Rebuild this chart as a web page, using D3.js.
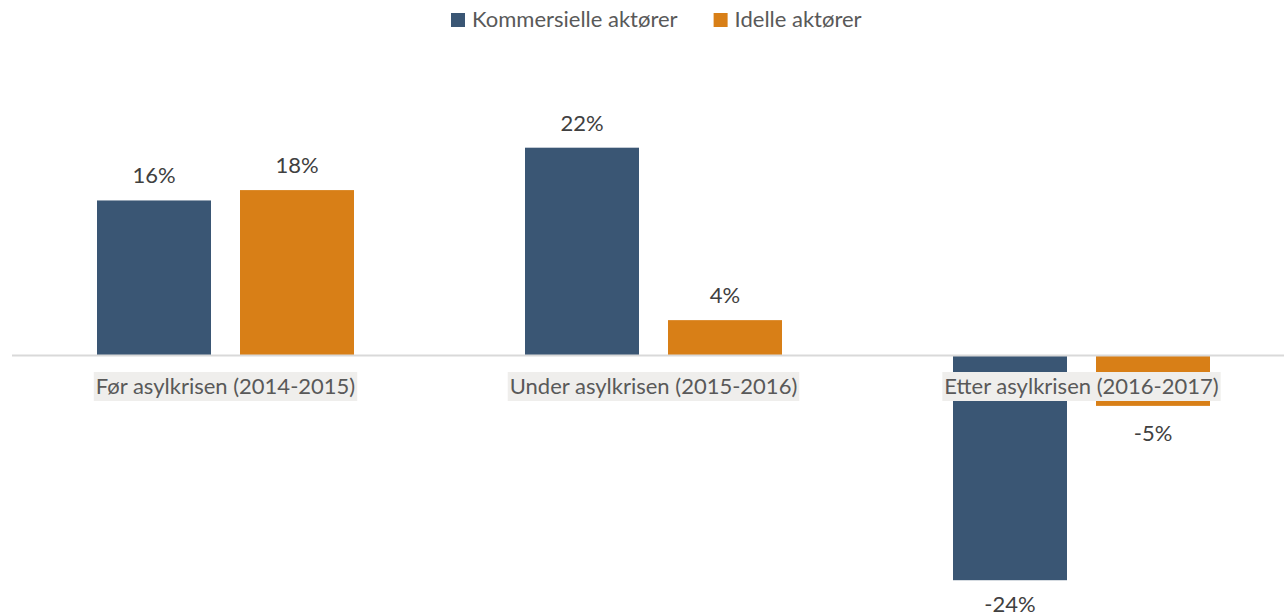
<!DOCTYPE html>
<html>
<head>
<meta charset="utf-8">
<script src="https://cdn.jsdelivr.net/npm/d3@7"></script>
<style>
  html, body { margin: 0; padding: 0; background: #ffffff; }
  svg { display: block; }
  text { font-family: Lato, "Open Sans", sans-serif; }
</style>
</head>
<body>
<svg id="chart" width="1284" height="616"></svg>
<script>
// Periods around the asylum crisis
const categories = ["Før asylkrisen (2014-2015)", "Under asylkrisen (2015-2016)", "Etter asylkrisen (2016-2017)"];
// Actor types (series)
const seriesNames = ["Kommersielle aktører", "Idelle aktører"];
// Change per period, as fractions
const kommersielle = [0.164, 0.220, -0.239];
const idelle = [0.175, 0.037, -0.054];
const seriesValues = [kommersielle, idelle];
const seriesColors = ["#3a5674", "#d87f17"];

const svg = d3.select("#chart");

const x0 = d3.scaleBand().domain(categories).range([11.5, 1295.5]).padding(0);
const x1 = d3.scaleBand().domain(seriesNames).range([85.5, 342.5])
  .paddingInner(29 / 143).paddingOuter(0);
const y = d3.scaleLinear().domain([-0.26, 0.26]).range([600, 110]);
const fmt = d3.formatLocale({ decimal: ",", thousands: " ", grouping: [3], currency: ["", " kr"], minus: "-" }).format(".0%");

const rows = categories.map((c, i) => ({
  category: c,
  items: seriesNames.map((s, j) => ({ series: s, value: seriesValues[j][i], color: seriesColors[j] }))
}));

// Bars
const groups = svg.append("g").selectAll("g").data(rows).join("g")
  .attr("transform", d => `translate(${x0(d.category)},0)`);

groups.selectAll("rect").data(d => d.items).join("rect")
  .attr("x", d => x1(d.series))
  .attr("width", x1.bandwidth())
  .attr("y", d => y(Math.max(0, d.value)))
  .attr("height", d => Math.abs(y(d.value) - y(0)))
  .attr("fill", d => d.color);

// Value labels
groups.selectAll("text.val").data(d => d.items).join("text")
  .attr("class", "val")
  .attr("x", d => x1(d.series) + x1.bandwidth() / 2)
  .attr("y", d => d.value >= 0 ? y(d.value) - 17 : Math.min(y(d.value) + 35, 612))
  .attr("text-anchor", "middle")
  .attr("font-size", 22)
  .attr("fill", "#404040")
  .text(d => fmt(d.value));

// Category axis at zero
const axis = svg.append("g")
  .attr("transform", `translate(0,${y(0)})`)
  .call(d3.axisBottom(x0).tickSize(0).tickPadding(0));
axis.select(".domain").attr("stroke", "#d9d9d9").attr("stroke-width", 2);
axis.selectAll(".tick text")
  .attr("font-family", "Lato, 'Open Sans', sans-serif")
  .attr("font-size", 22)
  .attr("fill", "#595959")
  .attr("dy", null)
  .attr("y", 39);
axis.selectAll(".tick").each(function () {
  const t = d3.select(this).select("text");
  const bb = t.node().getBBox();
  d3.select(this).insert("rect", "text")
    .attr("x", bb.x - 2)
    .attr("y", 17)
    .attr("width", bb.width + 4)
    .attr("height", 29)
    .attr("fill", "#efeeec");
});

// Legend
const legend = svg.append("g");
let lx = 451;
seriesNames.forEach((s, j) => {
  const g = legend.append("g").attr("transform", `translate(${lx},13)`);
  g.append("rect").attr("width", 14).attr("height", 14).attr("fill", seriesColors[j]);
  const t = g.append("text").attr("x", 21).attr("y", 14)
    .attr("font-size", 22).attr("fill", "#595959").text(s);
  lx += 21 + t.node().getComputedTextLength() + 36;
});
</script>
</body>
</html>
